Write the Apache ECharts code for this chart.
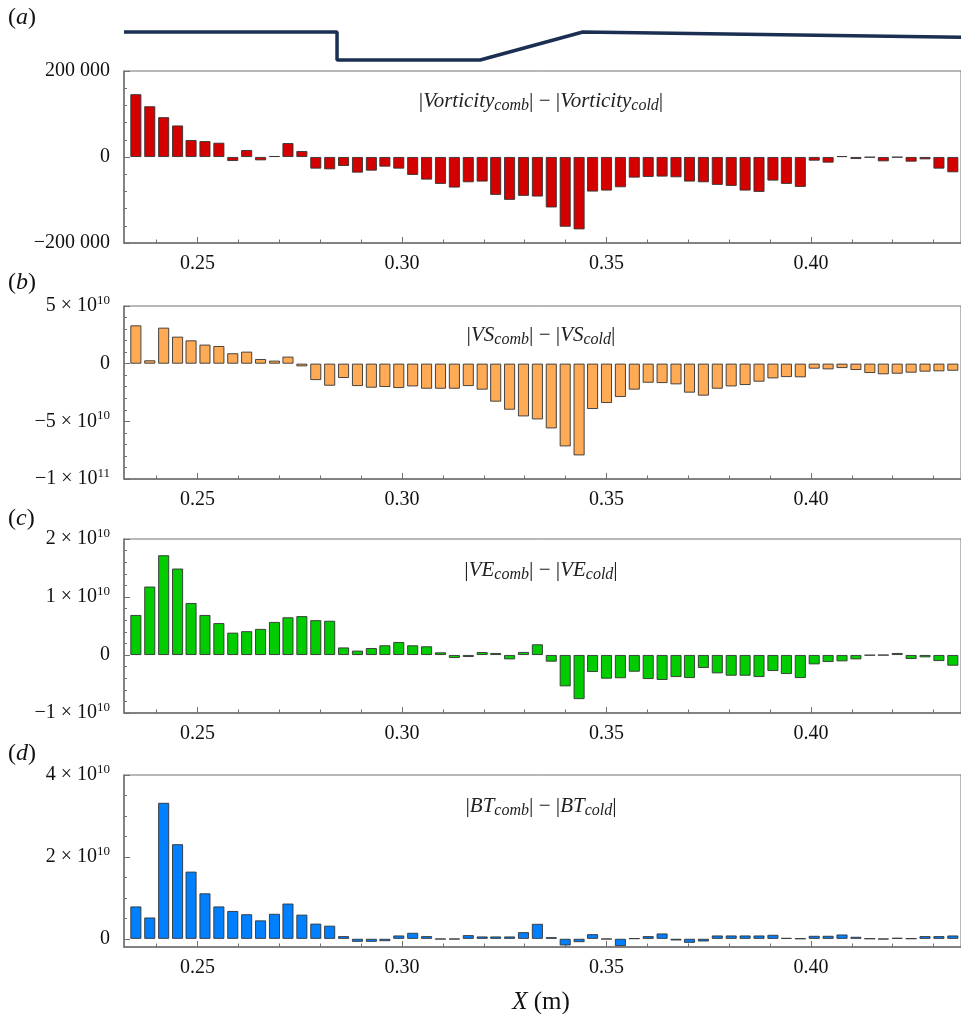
<!DOCTYPE html>
<html>
<head>
<meta charset="utf-8">
<script src="https://cdn.jsdelivr.net/npm/echarts@6.0.0/dist/echarts.min.js"></script>
<style>
html,body{margin:0;padding:0;background:#fff;}
#chart{width:961px;height:1014px;}
</style>
</head>
<body>
<div id="chart"></div>
<script>
// ---------- data ----------
const xPositions = [0.2349,0.2383,0.2417,0.2451,0.2484,0.2518,0.2552,0.2586,0.2620,0.2654,
  0.2688,0.2721,0.2755,0.2789,0.2823,0.2857,0.2891,0.2925,0.2958,0.2992,
  0.3026,0.3060,0.3094,0.3128,0.3162,0.3196,0.3229,0.3263,0.3297,0.3331,
  0.3365,0.3399,0.3433,0.3466,0.3500,0.3534,0.3568,0.3602,0.3636,0.3670,
  0.3703,0.3737,0.3771,0.3805,0.3839,0.3873,0.3907,0.3940,0.3974,0.4008,
  0.4042,0.4076,0.4110,0.4144,0.4177,0.4211,0.4245,0.4279,0.4313,0.4347];

const vorticityDiff = [146000,118000,92600,73300,39400,37000,33200,-9300,16200,-7700,
  2300,32400,13900,-27000,-28600,-20800,-36300,-31700,-22400,-27000,
  -41700,-52500,-62500,-71000,-58700,-57100,-88000,-99600,-90300,-91900,
  -117300,-162100,-168300,-80300,-78000,-70300,-47900,-46300,-45500,-47100,
  -57100,-58700,-64800,-67200,-78000,-81100,-54800,-62500,-69500,-8500,
  -13100,2000,-4600,-1000,-10000,-800,-10800,-5400,-27000,-35500];

const vsDiff = [3.32e10,0.29e10,3.12e10,2.34e10,2.02e10,1.65e10,1.53e10,0.90e10,1.04e10,0.40e10,
  0.26e10,0.61e10,-0.23e10,-1.42e10,-1.91e10,-1.24e10,-1.94e10,-2.08e10,-2.02e10,-2.11e10,
  -1.97e10,-2.17e10,-2.17e10,-2.17e10,-1.94e10,-2.25e10,-3.29e10,-3.99e10,-4.57e10,-4.83e10,
  -5.61e10,-7.17e10,-7.95e10,-3.93e10,-3.41e10,-2.89e10,-2.25e10,-1.65e10,-1.68e10,-1.79e10,
  -2.51e10,-2.77e10,-2.17e10,-1.97e10,-1.85e10,-1.56e10,-1.27e10,-1.16e10,-1.18e10,-0.43e10,
  -0.49e10,-0.38e10,-0.55e10,-0.81e10,-0.92e10,-0.87e10,-0.78e10,-0.69e10,-0.66e10,-0.61e10];

const veDiff = [6.9e9,11.8e9,17.2e9,14.9e9,8.97e9,6.9e9,5.5e9,3.85e9,4.1e9,4.5e9,
  5.7e9,6.5e9,6.7e9,6.0e9,5.9e9,1.3e9,0.75e9,1.2e9,1.67e9,2.24e9,
  1.67e9,1.5e9,0.46e9,-0.52e9,-0.34e9,0.5e9,0.34e9,-0.75e9,0.52e9,1.84e9,
  -1.15e9,-5.4e9,-7.6e9,-2.93e9,-4.08e9,-4.0e9,-2.88e9,-4.14e9,-4.3e9,-3.8e9,
  -3.97e9,-2.24e9,-3.16e9,-3.57e9,-3.57e9,-3.8e9,-2.76e9,-3.28e9,-3.97e9,-1.61e9,
  -1.21e9,-1.09e9,-0.75e9,-0.06e9,-0.03e9,0.34e9,-0.69e9,-0.4e9,-1.04e9,-1.84e9];

const btDiff = [7.9e9,5.2e9,33.2e9,23.1e9,16.4e9,11.1e9,7.9e9,6.8e9,6.0e9,4.5e9,
  6.1e9,8.6e9,5.9e9,3.7e9,3.2e9,0.65e9,-0.73e9,-0.73e9,-0.57e9,0.81e9,
  1.46e9,0.65e9,-0.1e9,-0.1e9,0.89e9,0.57e9,0.57e9,0.57e9,1.62e9,3.65e9,
  0.4e9,-1.62e9,-0.81e9,1.13e9,-0.1e9,-1.78e9,0.1e9,0.65e9,1.3e9,-0.4e9,
  -0.97e9,-0.65e9,0.81e9,0.81e9,0.81e9,0.81e9,0.97e9,0.2e9,0.05e9,0.73e9,
  0.73e9,1.05e9,0.49e9,0.05e9,-0.1e9,0.24e9,0.08e9,0.65e9,0.65e9,0.81e9];

// wall profile (schematic, relative height)
const wallX = [0.232,0.2841,0.2841,0.3191,0.3442,0.4367];
const wallY = [1,1,0,0,1,0.81];

// ticks
const xMajorTicks = [0.25,0.30,0.35,0.40];
const xMajorLabels = ['0.25','0.30','0.35','0.40'];
const xMinorTicks = [0.24,0.26,0.27,0.28,0.29,0.31,0.32,0.33,0.34,0.36,0.37,0.38,0.39,0.41,0.42,0.43];

const yTicksA = [-200000,0,200000];
const yLabelsA = ['{m|−200 000}','{m|0}','{m|200 000}'];
const yTicksB = [-1e11,-5e10,0,5e10];
const yLabelsB = ['{m|−1 × 10}{s|11}','{m|−5 × 10}{s|10}','{m|0}','{m|5 × 10}{s|10}'];
const yTicksC = [-1e10,0,1e10,2e10];
const yLabelsC = ['{m|−1 × 10}{s|10}','{m|0}','{m|1 × 10}{s|10}','{m|2 × 10}{s|10}'];
const yTicksD = [0,2e10,4e10];
const yLabelsD = ['{m|0}','{m|2 × 10}{s|10}','{m|4 × 10}{s|10}'];
const yMinorD = [5e9,1e10,1.5e10,2.5e10,3e10,3.5e10];

const panelLabels = ['a','b','c','d'];
const annotations = [
  '{b||}{i|Vorticity}{sub|comb}{b||}{n| − }{b||}{i|Vorticity}{sub|cold}{b||}',
  '{b||}{i|VS}{sub|comb}{b||}{n| − }{b||}{i|VS}{sub|cold}{b||}',
  '{b||}{i|VE}{sub|comb}{b||}{n| − }{b||}{i|VE}{sub|cold}{b||}',
  '{b||}{i|BT}{sub|comb}{b||}{n| − }{b||}{i|BT}{sub|cold}{b||}'
];

// ---------- layout / style ----------
const FONT = 'Liberation Serif';
const XMIN = 0.232, XMAX = 0.4367;
const AXIS_COLOR = '#707070';
const panels = [
  {top:71, height:172, min:-200000, max:200000, interval:200000, ticks:yTicksA, labels:yLabelsA, data:vorticityDiff, color:'#d40000'},
  {top:306, height:173, min:-1e11, max:5e10, interval:5e10, ticks:yTicksB, labels:yLabelsB, data:vsDiff, color:'#ffaa55'},
  {top:539, height:174, min:-1e10, max:2e10, interval:1e10, ticks:yTicksC, labels:yLabelsC, data:veDiff, color:'#00cc00'},
  {top:775, height:172, min:-2e9, max:4e10, interval:null, ticks:yTicksD, labels:yLabelsD, data:btDiff, color:'#0080ff'}
];
const labelY = [18, 283, 519, 754];
const annotY = [101, 335, 570, 806];

const labelRich = {
  m:{fontFamily:FONT, fontSize:20, color:'#111', lineHeight:24},
  s:{fontFamily:FONT, fontSize:13, color:'#111', verticalAlign:'top'}
};
function lookup(ticks, labels){
  return function(v){
    for (let k=0;k<ticks.length;k++){
      if (Math.abs(v-ticks[k]) <= Math.abs(ticks[ticks.length-1]-ticks[0])*1e-6) return labels[k];
    }
    return '';
  };
}

const grid = [], xAxis = [], yAxis = [], series = [], graphic = [];
panels.forEach((p, i) => {
  grid.push({left:124, width:837, top:p.top, height:p.height, show:true, borderColor:AXIS_COLOR, borderWidth:1, backgroundColor:'transparent'});
  const xi = xAxis.length;
  xAxis.push({
    type:'value', gridIndex:i, min:XMIN, max:XMAX, position:'bottom',
    axisLine:{show:true, onZero:false, lineStyle:{color:AXIS_COLOR, width:1.5}},
    axisTick:{show:true, inside:true, length:6, customValues:xMajorTicks, lineStyle:{color:AXIS_COLOR, width:1}},
    axisLabel:{show:true, customValues:xMajorTicks, formatter:lookup(xMajorTicks, xMajorLabels), fontFamily:FONT, fontSize:20, color:'#111', margin:11},
    splitLine:{show:false}
  });
  xAxis.push({
    type:'value', gridIndex:i, min:XMIN, max:XMAX, position:'bottom',
    axisLine:{show:false, onZero:false},
    axisTick:{show:true, inside:true, length:3.5, customValues:xMinorTicks, lineStyle:{color:AXIS_COLOR, width:1}},
    axisLabel:{show:false}, splitLine:{show:false}
  });
  const yi = yAxis.length;
  const y = {
    type:'value', gridIndex:i, min:p.min, max:p.max, position:'left',
    axisLine:{show:true, lineStyle:{color:AXIS_COLOR, width:1.5}},
    axisTick:{show:true, inside:true, length:6, lineStyle:{color:AXIS_COLOR}},
    axisLabel:{formatter:lookup(p.ticks, p.labels), rich:labelRich, margin:14, fontFamily:FONT, fontSize:20, color:'#111'},
    splitLine:{show:false}
  };
  if (p.interval){
    y.interval = p.interval;
    y.minorTick = {show:true, splitNumber:5, length:3, lineStyle:{color:AXIS_COLOR}};
  } else {
    y.axisTick.customValues = p.ticks;
    y.axisLabel.customValues = p.ticks;
  }
  yAxis.push(y);
  if (!p.interval){
    yAxis.push({
      type:'value', gridIndex:i, min:p.min, max:p.max, position:'left',
      axisLine:{show:false},
      axisTick:{show:true, inside:true, length:3, customValues:yMinorD, lineStyle:{color:AXIS_COLOR}},
      axisLabel:{show:false}, splitLine:{show:false}
    });
  }
  series.push({
    type:'bar', xAxisIndex:xi, yAxisIndex:yi, barWidth:11,
    data:xPositions.map((x,k)=>[x, p.data[k]]),
    itemStyle:{color:p.color, borderColor:'#333', borderWidth:0.9}
  });

  graphic.push({
    type:'text', x:8, y:labelY[i],
    style:{text:'{p|(}{i|'+panelLabels[i]+'}{p|)}', align:'left', textAlign:'left', verticalAlign:'middle', textVerticalAlign:'middle',
      rich:{p:{fontFamily:FONT, fontSize:24, fill:'#111'}, i:{fontFamily:FONT, fontSize:24, fontStyle:'italic', fill:'#111'}}}
  });
  graphic.push({
    type:'text', x:541, y:annotY[i],
    style:{text:annotations[i], align:'center', textAlign:'center', verticalAlign:'middle', textVerticalAlign:'middle',
      rich:{
        b:{fontFamily:FONT, fontSize:22, fill:'#222', lineHeight:26},
        n:{fontFamily:FONT, fontSize:21, fill:'#222', lineHeight:26},
        i:{fontFamily:FONT, fontSize:21, fontStyle:'italic', fill:'#222', lineHeight:26},
        sub:{fontFamily:FONT, fontSize:16, fontStyle:'italic', fill:'#222', verticalAlign:'bottom'}
      }}
  });
});

// wall profile
grid.push({left:124, width:837, top:18, height:56});
const wxi = xAxis.length;
xAxis.push({type:'value', gridIndex:4, min:XMIN, max:XMAX, show:false});
const wyi = yAxis.length;
yAxis.push({type:'value', gridIndex:4, min:-0.5, max:1.5, show:false});
series.push({
  type:'line', xAxisIndex:wxi, yAxisIndex:wyi, symbol:'none', clip:false,
  data:wallX.map((x,k)=>[x, wallY[k]]),
  lineStyle:{color:'#1b2f52', width:3.5}
});

graphic.push({
  type:'text', x:541, y:1002,
  style:{text:'{i|X}{p| (m)}', align:'center', textAlign:'center', verticalAlign:'middle', textVerticalAlign:'middle',
    rich:{p:{fontFamily:FONT, fontSize:25, fill:'#111'}, i:{fontFamily:FONT, fontSize:25, fontStyle:'italic', fill:'#111'}}}
});

const chart = echarts.init(document.getElementById('chart'), null, {renderer:'canvas'});
chart.setOption({
  animation:false,
  backgroundColor:'#fff',
  grid, xAxis, yAxis, series, graphic
});
</script>
</body>
</html>
